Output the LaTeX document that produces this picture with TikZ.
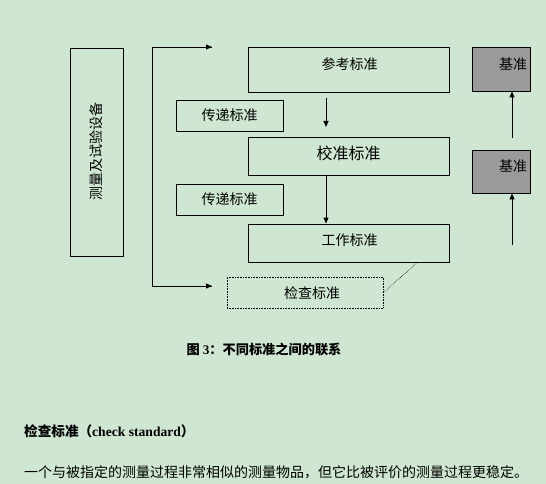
\documentclass[tikz,border=0pt]{standalone}
\usepackage{fontspec}
\setmainfont{Liberation Serif}
\newfontfamily\cjk{Noto Sans CJK SC}
\usetikzlibrary{arrows.meta}
\definecolor{bg}{HTML}{CFE7D2}
\definecolor{gbox}{HTML}{9A9A9A}
\tikzset{
  box/.style={draw=black, line width=0.9pt, inner sep=0pt},
  lbl/.style={font=\cjk\fontsize{14}{14}\selectfont, inner sep=0pt},
  arr/.style={line width=0.9pt, -{Triangle[length=6pt,width=5pt]}},
}
\begin{document}
\begin{tikzpicture}[x=1pt,y=-1pt]
\fill[bg] (0,0) rectangle (546,484);
\useasboundingbox (0,0) rectangle (546,484);
% tall box
\node[box, minimum width=53pt, minimum height=208pt] (equip) at (96.5,152) {};
\node[lbl, rotate=90] (equipT) at (96.5,151.5) {测量及试验设备};
% bracket
\coordinate (bt) at (152,47);
\coordinate (bb) at (152,286);
\coordinate (at) at (212,47);
\coordinate (ab) at (212,286);
\draw[line width=0.9pt] (at) -- (bt) -- (bb) -- (ab);
\draw[arr] (bt) -- (at);
\draw[arr] (bb) -- (ab);
% main column
\node[box, minimum width=201pt, minimum height=45pt] (ref) at (348.5,69.5) {};
\node[lbl] (refT) at (349.5,64) {参考标准};
\node[box, minimum width=107pt, minimum height=31pt] (tr1) at (229.5,115.5) {};
\node[lbl] (tr1T) at (229.5,115.5) {传递标准};
\node[box, minimum width=201pt, minimum height=38pt] (cal) at (348.5,156) {};
\node[lbl, font=\cjk\fontsize{16}{16}\selectfont] (calT) at (348.5,153) {校准标准};
\node[box, minimum width=107pt, minimum height=31pt] (tr2) at (229.5,199.5) {};
\node[lbl] (tr2T) at (229.5,199.5) {传递标准};
\node[box, minimum width=201pt, minimum height=38pt] (work) at (348.5,243) {};
\node[lbl] (workT) at (349.5,240) {工作标准};
\node[draw=black, densely dotted, line width=0.6pt, inner sep=0pt, minimum width=156pt, minimum height=31pt] (chk) at (305,292.5) {};
\node[lbl] (chkT) at (312,293) {检查标准};
\coordinate (a1s) at (326,98);
\coordinate (a1e) at (326,127);
\draw[arr] (a1s) -- (a1e);
\draw[arr] (cal.south -| a1s) -- (work.north -| a1s);
\coordinate (dl) at (418,262);
\draw[densely dotted, line width=0.6pt] (chk.east) -- (dl);
% right column
\node[box, fill=gbox, minimum width=58pt, minimum height=44pt] (base1) at (501,69) {};
\node[lbl] (base1T) at (513,64) {基准};
\node[box, fill=gbox, minimum width=58pt, minimum height=43pt] (base2) at (501,171.5) {};
\node[lbl] (base2T) at (513,166) {基准};
\coordinate (r1s) at (512,138);
\coordinate (r2s) at (512,245);
\draw[arr] (r1s) -- (base1.south -| r1s);
\draw[arr] (r2s) -- (base2.south -| r2s);
% caption and text
\node[inner sep=0pt, font=\cjk\bfseries\fontsize{13.2}{13.2}\selectfont] (cap) at (264,349) {图 {\rmfamily\bfseries 3}：不同标准之间的联系};
\node[inner sep=0pt, anchor=west, font=\cjk\bfseries\fontsize{13.6}{13.6}\selectfont] (head) at (24,431) {检查标准（{\rmfamily\bfseries check standard}）};
\node[inner sep=0pt, anchor=west, font=\cjk\fontsize{14}{14}\selectfont] (body) at (24,472) {一个与被指定的测量过程非常相似的测量物品，但它比被评价的测量过程更稳定。};
\end{tikzpicture}
\end{document}
